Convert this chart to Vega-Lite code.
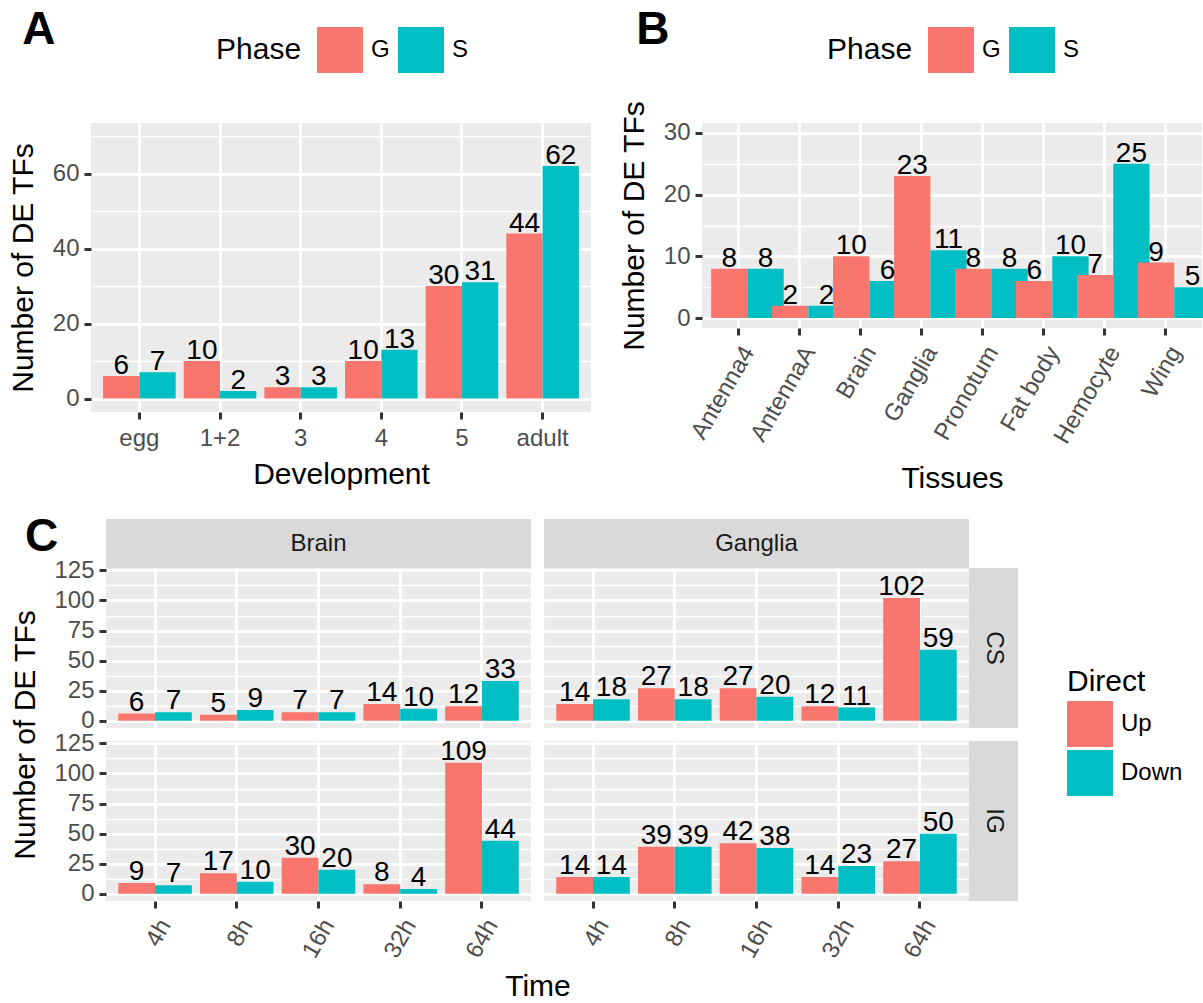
{
  "$schema": "https://vega.github.io/schema/vega-lite/v6.json",
  "background": "white",
  "padding": {"left": 8, "top": 7, "right": 0, "bottom": 0},
  "config": {
    "font": "Liberation Sans",
    "view": {"fill": "#EBEBEB", "stroke": null},
    "axis": {
      "domain": false, "grid": true, "gridColor": "#FFFFFF", "gridWidth": 3,
      "tickColor": "#333333", "tickWidth": 3, "tickSize": 7,
      "labelColor": "#4D4D4D", "labelFontSize": 24, "labelPadding": 5, "labelOverlap": false,
      "titleFontSize": 30, "titleFontWeight": "normal", "titleColor": "#000000"
    },
    "legend": {
      "symbolType": "square", "symbolSize": 2116, "symbolStrokeWidth": 0,
      "labelFontSize": 24, "labelColor": "#000000", "labelOffset": 8,
      "titleFontSize": 30, "titleFontWeight": "normal", "titleColor": "#000000", "padding": 0
    },
    "title": {"fontSize": 46, "fontWeight": "bold", "color": "#000000", "anchor": "start", "frame": "bounds", "offset": 0}
  },
  "datasets": {
    "c": [
      {"tissue": "Brain", "treat": "CS", "time": "4h", "direct": "Up", "n": 6},
      {"tissue": "Brain", "treat": "CS", "time": "4h", "direct": "Down", "n": 7},
      {"tissue": "Brain", "treat": "CS", "time": "8h", "direct": "Up", "n": 5},
      {"tissue": "Brain", "treat": "CS", "time": "8h", "direct": "Down", "n": 9},
      {"tissue": "Brain", "treat": "CS", "time": "16h", "direct": "Up", "n": 7},
      {"tissue": "Brain", "treat": "CS", "time": "16h", "direct": "Down", "n": 7},
      {"tissue": "Brain", "treat": "CS", "time": "32h", "direct": "Up", "n": 14},
      {"tissue": "Brain", "treat": "CS", "time": "32h", "direct": "Down", "n": 10},
      {"tissue": "Brain", "treat": "CS", "time": "64h", "direct": "Up", "n": 12},
      {"tissue": "Brain", "treat": "CS", "time": "64h", "direct": "Down", "n": 33},
      {"tissue": "Ganglia", "treat": "CS", "time": "4h", "direct": "Up", "n": 14},
      {"tissue": "Ganglia", "treat": "CS", "time": "4h", "direct": "Down", "n": 18},
      {"tissue": "Ganglia", "treat": "CS", "time": "8h", "direct": "Up", "n": 27},
      {"tissue": "Ganglia", "treat": "CS", "time": "8h", "direct": "Down", "n": 18},
      {"tissue": "Ganglia", "treat": "CS", "time": "16h", "direct": "Up", "n": 27},
      {"tissue": "Ganglia", "treat": "CS", "time": "16h", "direct": "Down", "n": 20},
      {"tissue": "Ganglia", "treat": "CS", "time": "32h", "direct": "Up", "n": 12},
      {"tissue": "Ganglia", "treat": "CS", "time": "32h", "direct": "Down", "n": 11},
      {"tissue": "Ganglia", "treat": "CS", "time": "64h", "direct": "Up", "n": 102},
      {"tissue": "Ganglia", "treat": "CS", "time": "64h", "direct": "Down", "n": 59},
      {"tissue": "Brain", "treat": "IG", "time": "4h", "direct": "Up", "n": 9},
      {"tissue": "Brain", "treat": "IG", "time": "4h", "direct": "Down", "n": 7},
      {"tissue": "Brain", "treat": "IG", "time": "8h", "direct": "Up", "n": 17},
      {"tissue": "Brain", "treat": "IG", "time": "8h", "direct": "Down", "n": 10},
      {"tissue": "Brain", "treat": "IG", "time": "16h", "direct": "Up", "n": 30},
      {"tissue": "Brain", "treat": "IG", "time": "16h", "direct": "Down", "n": 20},
      {"tissue": "Brain", "treat": "IG", "time": "32h", "direct": "Up", "n": 8},
      {"tissue": "Brain", "treat": "IG", "time": "32h", "direct": "Down", "n": 4},
      {"tissue": "Brain", "treat": "IG", "time": "64h", "direct": "Up", "n": 109},
      {"tissue": "Brain", "treat": "IG", "time": "64h", "direct": "Down", "n": 44},
      {"tissue": "Ganglia", "treat": "IG", "time": "4h", "direct": "Up", "n": 14},
      {"tissue": "Ganglia", "treat": "IG", "time": "4h", "direct": "Down", "n": 14},
      {"tissue": "Ganglia", "treat": "IG", "time": "8h", "direct": "Up", "n": 39},
      {"tissue": "Ganglia", "treat": "IG", "time": "8h", "direct": "Down", "n": 39},
      {"tissue": "Ganglia", "treat": "IG", "time": "16h", "direct": "Up", "n": 42},
      {"tissue": "Ganglia", "treat": "IG", "time": "16h", "direct": "Down", "n": 38},
      {"tissue": "Ganglia", "treat": "IG", "time": "32h", "direct": "Up", "n": 14},
      {"tissue": "Ganglia", "treat": "IG", "time": "32h", "direct": "Down", "n": 23},
      {"tissue": "Ganglia", "treat": "IG", "time": "64h", "direct": "Up", "n": 27},
      {"tissue": "Ganglia", "treat": "IG", "time": "64h", "direct": "Down", "n": 50}
    ]
  },
  "resolve": {"scale": {"color": "independent", "xOffset": "independent"}, "legend": {"color": "independent"}},
  "columns": 1,
  "spacing": 20,
  "concat": [
    {
      "hconcat": [
        {
          "width": 500, "height": 289,
          "title": {"text": "A", "baseline": "alphabetic", "dx": 14, "dy": 67},
          "data": {"values": [
            {"stage": "egg", "phase": "G", "n": 6}, {"stage": "egg", "phase": "S", "n": 7},
            {"stage": "1+2", "phase": "G", "n": 10}, {"stage": "1+2", "phase": "S", "n": 2},
            {"stage": "3", "phase": "G", "n": 3}, {"stage": "3", "phase": "S", "n": 3},
            {"stage": "4", "phase": "G", "n": 10}, {"stage": "4", "phase": "S", "n": 13},
            {"stage": "5", "phase": "G", "n": 30}, {"stage": "5", "phase": "S", "n": 31},
            {"stage": "adult", "phase": "G", "n": 44}, {"stage": "adult", "phase": "S", "n": 62}
          ]},
          "encoding": {
            "x": {"field": "stage", "type": "nominal", "title": "Development",
                  "scale": {"type": "band", "domain": ["egg", "1+2", "3", "4", "5", "adult"], "paddingInner": 0.1, "paddingOuter": 0.15},
                  "axis": {"bandPosition": 0.5, "labelAngle": 0, "labelPadding": 7, "titlePadding": 9}},
            "xOffset": {"field": "phase", "type": "nominal", "scale": {"type": "band", "domain": ["G", "S"], "paddingInner": 0, "paddingOuter": 0}},
            "y": {"field": "n", "type": "quantitative", "title": "Number of DE TFs",
                  "scale": {"domain": [-3.6, 73.5], "nice": false},
                  "axis": {"values": [0, 10, 20, 30, 40, 50, 60, 70], "titlePadding": 14,
                           "labelExpr": "datum.value % 20 === 0 ? datum.label : ''",
                           "gridWidth": {"condition": {"test": "datum.value % 20 !== 0", "value": 1.5}, "value": 3},
                           "tickOpacity": {"condition": {"test": "datum.value % 20 !== 0", "value": 0}, "value": 1}}},
            "color": {"field": "phase", "type": "nominal",
                      "scale": {"domain": ["G", "S"], "range": ["#F8766D", "#00BFC4"]},
                      "legend": {"title": "Phase", "orient": "none", "legendX": 125, "legendY": -96, "direction": "horizontal",
                                 "titleOrient": "left", "titleAnchor": "middle", "titleBaseline": "middle", "titlePadding": 15, "columnPadding": 8}}
          },
          "layer": [
            {"mark": {"type": "bar"}},
            {"mark": {"type": "text", "baseline": "alphabetic", "dy": -2, "fontSize": 28},
             "encoding": {"text": {"field": "n", "type": "quantitative"}, "color": {"value": "#000000"}}}
          ]
        },
        {
          "width": 500, "height": 205,
          "title": {"text": "B", "baseline": "alphabetic", "dx": 17, "dy": 67},
          "data": {"values": [
            {"tissue": "Antenna4", "phase": "G", "n": 8}, {"tissue": "Antenna4", "phase": "S", "n": 8},
            {"tissue": "AntennaA", "phase": "G", "n": 2}, {"tissue": "AntennaA", "phase": "S", "n": 2},
            {"tissue": "Brain", "phase": "G", "n": 10}, {"tissue": "Brain", "phase": "S", "n": 6},
            {"tissue": "Ganglia", "phase": "G", "n": 23}, {"tissue": "Ganglia", "phase": "S", "n": 11},
            {"tissue": "Pronotum", "phase": "G", "n": 8}, {"tissue": "Pronotum", "phase": "S", "n": 8},
            {"tissue": "Fat body", "phase": "G", "n": 6}, {"tissue": "Fat body", "phase": "S", "n": 10},
            {"tissue": "Hemocyte", "phase": "G", "n": 7}, {"tissue": "Hemocyte", "phase": "S", "n": 25},
            {"tissue": "Wing", "phase": "G", "n": 9}, {"tissue": "Wing", "phase": "S", "n": 5}
          ]},
          "encoding": {
            "x": {"field": "tissue", "type": "nominal", "title": "Tissues",
                  "scale": {"type": "band", "domain": ["Antenna4", "AntennaA", "Brain", "Ganglia", "Pronotum", "Fat body", "Hemocyte", "Wing"], "paddingInner": 0.1, "paddingOuter": 0.15},
                  "axis": {"bandPosition": 0.5, "labelAngle": -60, "labelAlign": "right", "labelBaseline": "top", "labelPadding": 7, "titlePadding": 16}},
            "xOffset": {"field": "phase", "type": "nominal", "scale": {"type": "band", "domain": ["G", "S"], "paddingInner": 0, "paddingOuter": 0}},
            "y": {"field": "n", "type": "quantitative", "title": "Number of DE TFs",
                  "scale": {"domain": [-1.6, 31.6], "nice": false},
                  "axis": {"values": [0, 5, 10, 15, 20, 25, 30], "titlePadding": 14,
                           "labelExpr": "datum.value % 10 === 0 ? datum.label : ''",
                           "gridWidth": {"condition": {"test": "datum.value % 10 !== 0", "value": 1.5}, "value": 3},
                           "tickOpacity": {"condition": {"test": "datum.value % 10 !== 0", "value": 0}, "value": 1}}},
            "color": {"field": "phase", "type": "nominal",
                      "scale": {"domain": ["G", "S"], "range": ["#F8766D", "#00BFC4"]},
                      "legend": {"title": "Phase", "orient": "none", "legendX": 125, "legendY": -96, "direction": "horizontal",
                                 "titleOrient": "left", "titleAnchor": "middle", "titleBaseline": "middle", "titlePadding": 15, "columnPadding": 8}}
          },
          "layer": [
            {"mark": {"type": "bar"}},
            {"mark": {"type": "text", "baseline": "alphabetic", "dy": -2, "fontSize": 28},
             "encoding": {"text": {"field": "n", "type": "quantitative"}, "color": {"value": "#000000"}}}
          ]
        }
      ],
      "bounds": "flush",
      "spacing": 111,
      "resolve": {"scale": {"color": "independent"}, "legend": {"color": "independent"}}
    },
    {
      "title": {"text": "C", "baseline": "alphabetic", "dx": 14, "dy": 82},
      "columns": 5,
      "spacing": 0,
      "bounds": "flush",
      "concat": [
        {"width": 15, "height": 1, "view": {"fill": "transparent", "stroke": null}, "data": {"values": []}, "mark": "point", "encoding": {}},
        {"width": 425, "height": 49, "view": {"fill": "#D9D9D9", "stroke": null},
         "data": {"values": [{"strip": "Brain"}]},
         "mark": {"type": "text", "fontSize": 24, "color": "#1A1A1A", "baseline": "middle", "align": "center"},
         "encoding": {"text": {"field": "strip", "type": "nominal"}}},
        {"width": 13, "height": 1, "view": {"fill": "transparent", "stroke": null}, "data": {"values": []}, "mark": "point", "encoding": {}},
        {"width": 425, "height": 49, "view": {"fill": "#D9D9D9", "stroke": null},
         "data": {"values": [{"strip": "Ganglia"}]},
         "mark": {"type": "text", "fontSize": 24, "color": "#1A1A1A", "baseline": "middle", "align": "center"},
         "encoding": {"text": {"field": "strip", "type": "nominal"}}},
        {"width": 1, "height": 1, "view": {"fill": "transparent", "stroke": null}, "data": {"values": []}, "mark": "point", "encoding": {}},

        {"width": 15, "height": 1, "view": {"fill": "transparent", "stroke": null}, "data": {"values": []}, "mark": "point", "encoding": {}},
        {
          "width": 425, "height": 160,
          "data": {"name": "c"},
          "transform": [{"filter": "datum.tissue === 'Brain' && datum.treat === 'CS'"}],
          "encoding": {
            "x": {"field": "time", "type": "nominal",
                  "scale": {"type": "band", "domain": ["4h", "8h", "16h", "32h", "64h"], "paddingInner": 0.1, "paddingOuter": 0.15},
                  "axis": {"bandPosition": 0.5, "labels": false, "ticks": false, "title": null}},
            "xOffset": {"field": "direct", "type": "nominal", "scale": {"type": "band", "domain": ["Up", "Down"], "paddingInner": 0, "paddingOuter": 0}},
            "y": {"field": "n", "type": "quantitative", "title": "Number of DE TFs",
                  "scale": {"domain": [-6, 127], "nice": false},
                  "axis": {"values": [0, 12.5, 25, 37.5, 50, 62.5, 75, 87.5, 100, 112.5, 125], "titlePadding": 13, "titleY": 166.5,
                           "labelExpr": "datum.value % 25 === 0 ? datum.label : ''",
                           "gridWidth": {"condition": {"test": "datum.value % 25 !== 0", "value": 1.5}, "value": 3},
                           "tickOpacity": {"condition": {"test": "datum.value % 25 !== 0", "value": 0}, "value": 1}}},
            "color": {"field": "direct", "type": "nominal",
                      "scale": {"domain": ["Up", "Down"], "range": ["#F8766D", "#00BFC4"]},
                      "legend": {"title": "Direct", "orient": "none", "legendX": 976, "legendY": 148, "direction": "vertical", "rowPadding": 3, "titlePadding": 4}}
          },
          "layer": [
            {"mark": {"type": "bar"}},
            {"mark": {"type": "text", "baseline": "alphabetic", "dy": -3, "fontSize": 28},
             "encoding": {"text": {"field": "n", "type": "quantitative"}, "color": {"value": "#000000"}}}
          ]
        },
        {"width": 13, "height": 1, "view": {"fill": "transparent", "stroke": null}, "data": {"values": []}, "mark": "point", "encoding": {}},
        {
          "width": 425, "height": 160,
          "data": {"name": "c"},
          "transform": [{"filter": "datum.tissue === 'Ganglia' && datum.treat === 'CS'"}],
          "encoding": {
            "x": {"field": "time", "type": "nominal",
                  "scale": {"type": "band", "domain": ["4h", "8h", "16h", "32h", "64h"], "paddingInner": 0.1, "paddingOuter": 0.15},
                  "axis": {"bandPosition": 0.5, "labels": false, "ticks": false, "title": null}},
            "xOffset": {"field": "direct", "type": "nominal", "scale": {"type": "band", "domain": ["Up", "Down"], "paddingInner": 0, "paddingOuter": 0}},
            "y": {"field": "n", "type": "quantitative",
                  "scale": {"domain": [-6, 127], "nice": false},
                  "axis": {"values": [0, 12.5, 25, 37.5, 50, 62.5, 75, 87.5, 100, 112.5, 125], "labels": false, "ticks": false, "title": null,
                           "gridWidth": {"condition": {"test": "datum.value % 25 !== 0", "value": 1.5}, "value": 3}}},
            "color": {"field": "direct", "type": "nominal",
                      "scale": {"domain": ["Up", "Down"], "range": ["#F8766D", "#00BFC4"]},
                      "legend": {"title": "Direct", "orient": "none", "legendX": 976, "legendY": 148, "direction": "vertical", "rowPadding": 3, "titlePadding": 4}}
          },
          "layer": [
            {"mark": {"type": "bar"}},
            {"mark": {"type": "text", "baseline": "alphabetic", "dy": -3, "fontSize": 28},
             "encoding": {"text": {"field": "n", "type": "quantitative"}, "color": {"value": "#000000"}}}
          ]
        },
        {"width": 49, "height": 160, "view": {"fill": "#D9D9D9", "stroke": null},
         "data": {"values": [{"strip": "CS"}]},
         "mark": {"type": "text", "fontSize": 24, "color": "#1A1A1A", "baseline": "middle", "align": "center", "angle": 90},
         "encoding": {"text": {"field": "strip", "type": "nominal"}}},

        {"width": 15, "height": 13, "view": {"fill": "transparent", "stroke": null}, "data": {"values": []}, "mark": "point", "encoding": {}},
        {"width": 1, "height": 13, "view": {"fill": "transparent", "stroke": null}, "data": {"values": []}, "mark": "point", "encoding": {}},
        {"width": 13, "height": 13, "view": {"fill": "transparent", "stroke": null}, "data": {"values": []}, "mark": "point", "encoding": {}},
        {"width": 1, "height": 13, "view": {"fill": "transparent", "stroke": null}, "data": {"values": []}, "mark": "point", "encoding": {}},
        {"width": 1, "height": 13, "view": {"fill": "transparent", "stroke": null}, "data": {"values": []}, "mark": "point", "encoding": {}},

        {"width": 15, "height": 1, "view": {"fill": "transparent", "stroke": null}, "data": {"values": []}, "mark": "point", "encoding": {}},
        {
          "width": 425, "height": 160,
          "data": {"name": "c"},
          "transform": [{"filter": "datum.tissue === 'Brain' && datum.treat === 'IG'"}],
          "encoding": {
            "x": {"field": "time", "type": "nominal", "title": "Time",
                  "scale": {"type": "band", "domain": ["4h", "8h", "16h", "32h", "64h"], "paddingInner": 0.1, "paddingOuter": 0.15},
                  "axis": {"bandPosition": 0.5, "labelAngle": -60, "labelAlign": "right", "labelBaseline": "top", "labelPadding": 7, "titleX": 431.5, "titleY": 70}},
            "xOffset": {"field": "direct", "type": "nominal", "scale": {"type": "band", "domain": ["Up", "Down"], "paddingInner": 0, "paddingOuter": 0}},
            "y": {"field": "n", "type": "quantitative",
                  "scale": {"domain": [-6, 127], "nice": false},
                  "axis": {"values": [0, 12.5, 25, 37.5, 50, 62.5, 75, 87.5, 100, 112.5, 125], "title": null,
                           "labelExpr": "datum.value % 25 === 0 ? datum.label : ''",
                           "gridWidth": {"condition": {"test": "datum.value % 25 !== 0", "value": 1.5}, "value": 3},
                           "tickOpacity": {"condition": {"test": "datum.value % 25 !== 0", "value": 0}, "value": 1}}},
            "color": {"field": "direct", "type": "nominal",
                      "scale": {"domain": ["Up", "Down"], "range": ["#F8766D", "#00BFC4"]},
                      "legend": {"title": "Direct", "orient": "none", "legendX": 976, "legendY": 148, "direction": "vertical", "rowPadding": 3, "titlePadding": 4}}
          },
          "layer": [
            {"mark": {"type": "bar"}},
            {"mark": {"type": "text", "baseline": "alphabetic", "dy": -3, "fontSize": 28},
             "encoding": {"text": {"field": "n", "type": "quantitative"}, "color": {"value": "#000000"}}}
          ]
        },
        {"width": 13, "height": 1, "view": {"fill": "transparent", "stroke": null}, "data": {"values": []}, "mark": "point", "encoding": {}},
        {
          "width": 425, "height": 160,
          "data": {"name": "c"},
          "transform": [{"filter": "datum.tissue === 'Ganglia' && datum.treat === 'IG'"}],
          "encoding": {
            "x": {"field": "time", "type": "nominal",
                  "scale": {"type": "band", "domain": ["4h", "8h", "16h", "32h", "64h"], "paddingInner": 0.1, "paddingOuter": 0.15},
                  "axis": {"bandPosition": 0.5, "labelAngle": -60, "labelAlign": "right", "labelBaseline": "top", "labelPadding": 7, "title": null}},
            "xOffset": {"field": "direct", "type": "nominal", "scale": {"type": "band", "domain": ["Up", "Down"], "paddingInner": 0, "paddingOuter": 0}},
            "y": {"field": "n", "type": "quantitative",
                  "scale": {"domain": [-6, 127], "nice": false},
                  "axis": {"values": [0, 12.5, 25, 37.5, 50, 62.5, 75, 87.5, 100, 112.5, 125], "labels": false, "ticks": false, "title": null,
                           "gridWidth": {"condition": {"test": "datum.value % 25 !== 0", "value": 1.5}, "value": 3}}},
            "color": {"field": "direct", "type": "nominal",
                      "scale": {"domain": ["Up", "Down"], "range": ["#F8766D", "#00BFC4"]},
                      "legend": {"title": "Direct", "orient": "none", "legendX": 976, "legendY": 148, "direction": "vertical", "rowPadding": 3, "titlePadding": 4}}
          },
          "layer": [
            {"mark": {"type": "bar"}},
            {"mark": {"type": "text", "baseline": "alphabetic", "dy": -3, "fontSize": 28},
             "encoding": {"text": {"field": "n", "type": "quantitative"}, "color": {"value": "#000000"}}}
          ]
        },
        {"width": 49, "height": 160, "view": {"fill": "#D9D9D9", "stroke": null},
         "data": {"values": [{"strip": "IG"}]},
         "mark": {"type": "text", "fontSize": 24, "color": "#1A1A1A", "baseline": "middle", "align": "center", "angle": 90},
         "encoding": {"text": {"field": "strip", "type": "nominal"}}}
      ]
    }
  ]
}
